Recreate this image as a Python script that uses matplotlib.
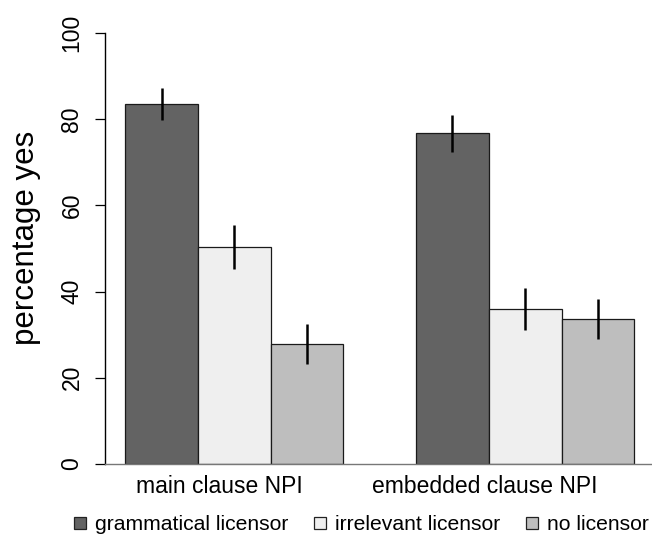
import numpy as np
import matplotlib.pyplot as plt
from matplotlib.lines import Line2D

plt.rcParams['font.family'] = ['Liberation Sans', 'DejaVu Sans']

# values
groups = ['main clause NPI', 'embedded clause NPI']
conditions = ['grammatical licensor', 'irrelevant licensor', 'no licensor']
colours = ['#636363', '#efefef', '#bebebe']
means = [[83.5, 50.4, 27.8],
         [76.7, 35.9, 33.6]]
errs = [[3.7, 5.1, 4.6],
        [4.3, 4.9, 4.7]]
yticks = [0, 20, 40, 60, 80, 100]

fig = plt.figure(figsize=(6.52, 5.36), dpi=100)
W, H = 652, 536
# plot region in pixels, R barplot style
left, right, top, bottom = 105, 654.6, 33, 464
ax = fig.add_axes([left / W, 1 - bottom / H, (right - left) / W, (bottom - top) / H])

means = np.array(means)
errs = np.array(errs)
n_cond = len(conditions)
# beside=TRUE layout: one unit gap before each group
for g in range(len(groups)):
    lefts = 1 + g * (n_cond + 1) + np.arange(n_cond)
    centers = lefts + 0.5
    for i in range(n_cond):
        ax.bar(lefts[i], means[g, i], width=1, align='edge', color=colours[i],
               edgecolor='#1a1a1a', linewidth=0.9, zorder=2)
    ax.vlines(centers, means[g] - errs[g], means[g] + errs[g],
              color='black', linewidth=1.8, zorder=3)

n_bars = len(groups) * (n_cond + 1) - 1
ax.set_xlim(1 - 0.04 * n_bars, n_bars + 1 + 0.04 * n_bars)
ax.set_ylim(0, 100)

for s in ['top', 'right']:
    ax.spines[s].set_visible(False)
ax.spines['left'].set_bounds(0, 100)
ax.spines['left'].set_linewidth(1.0)
ax.spines['bottom'].set_color('#777777')
ax.spines['bottom'].set_linewidth(1.0)

ax.set_yticks(yticks)
ax.set_yticklabels([str(t) for t in yticks], rotation=90, va='center')
ax.tick_params(axis='y', length=7.5, width=0.9, labelsize=16.5, pad=8)

group_centers = 1 + np.arange(len(groups)) * (n_cond + 1) + n_cond / 2
label_shift = np.array([-0.21, -0.56])
ax.set_xticks(group_centers + label_shift)
ax.set_xticklabels(groups)
ax.tick_params(axis='x', length=0, labelsize=16.5, pad=8)

ax.set_ylabel('percentage yes', fontsize=22.5)
ax.yaxis.set_label_coords(-(left - 41) / (right - left), 1 - (238 - top) / (bottom - top))

handles = [Line2D([], [], linestyle='none', marker='s', markersize=9,
                  markerfacecolor=c, markeredgecolor='#222222', markeredgewidth=0.9)
           for c in colours]
fig.legend(handles, conditions, loc='center left', bbox_to_anchor=(72 / W, 1 - 525 / H),
           ncol=3, frameon=False, fontsize=15.2, handlelength=0.8, handletextpad=0.3,
           columnspacing=1.1, borderpad=0, borderaxespad=0)

fig.savefig('out.png', dpi=100)
